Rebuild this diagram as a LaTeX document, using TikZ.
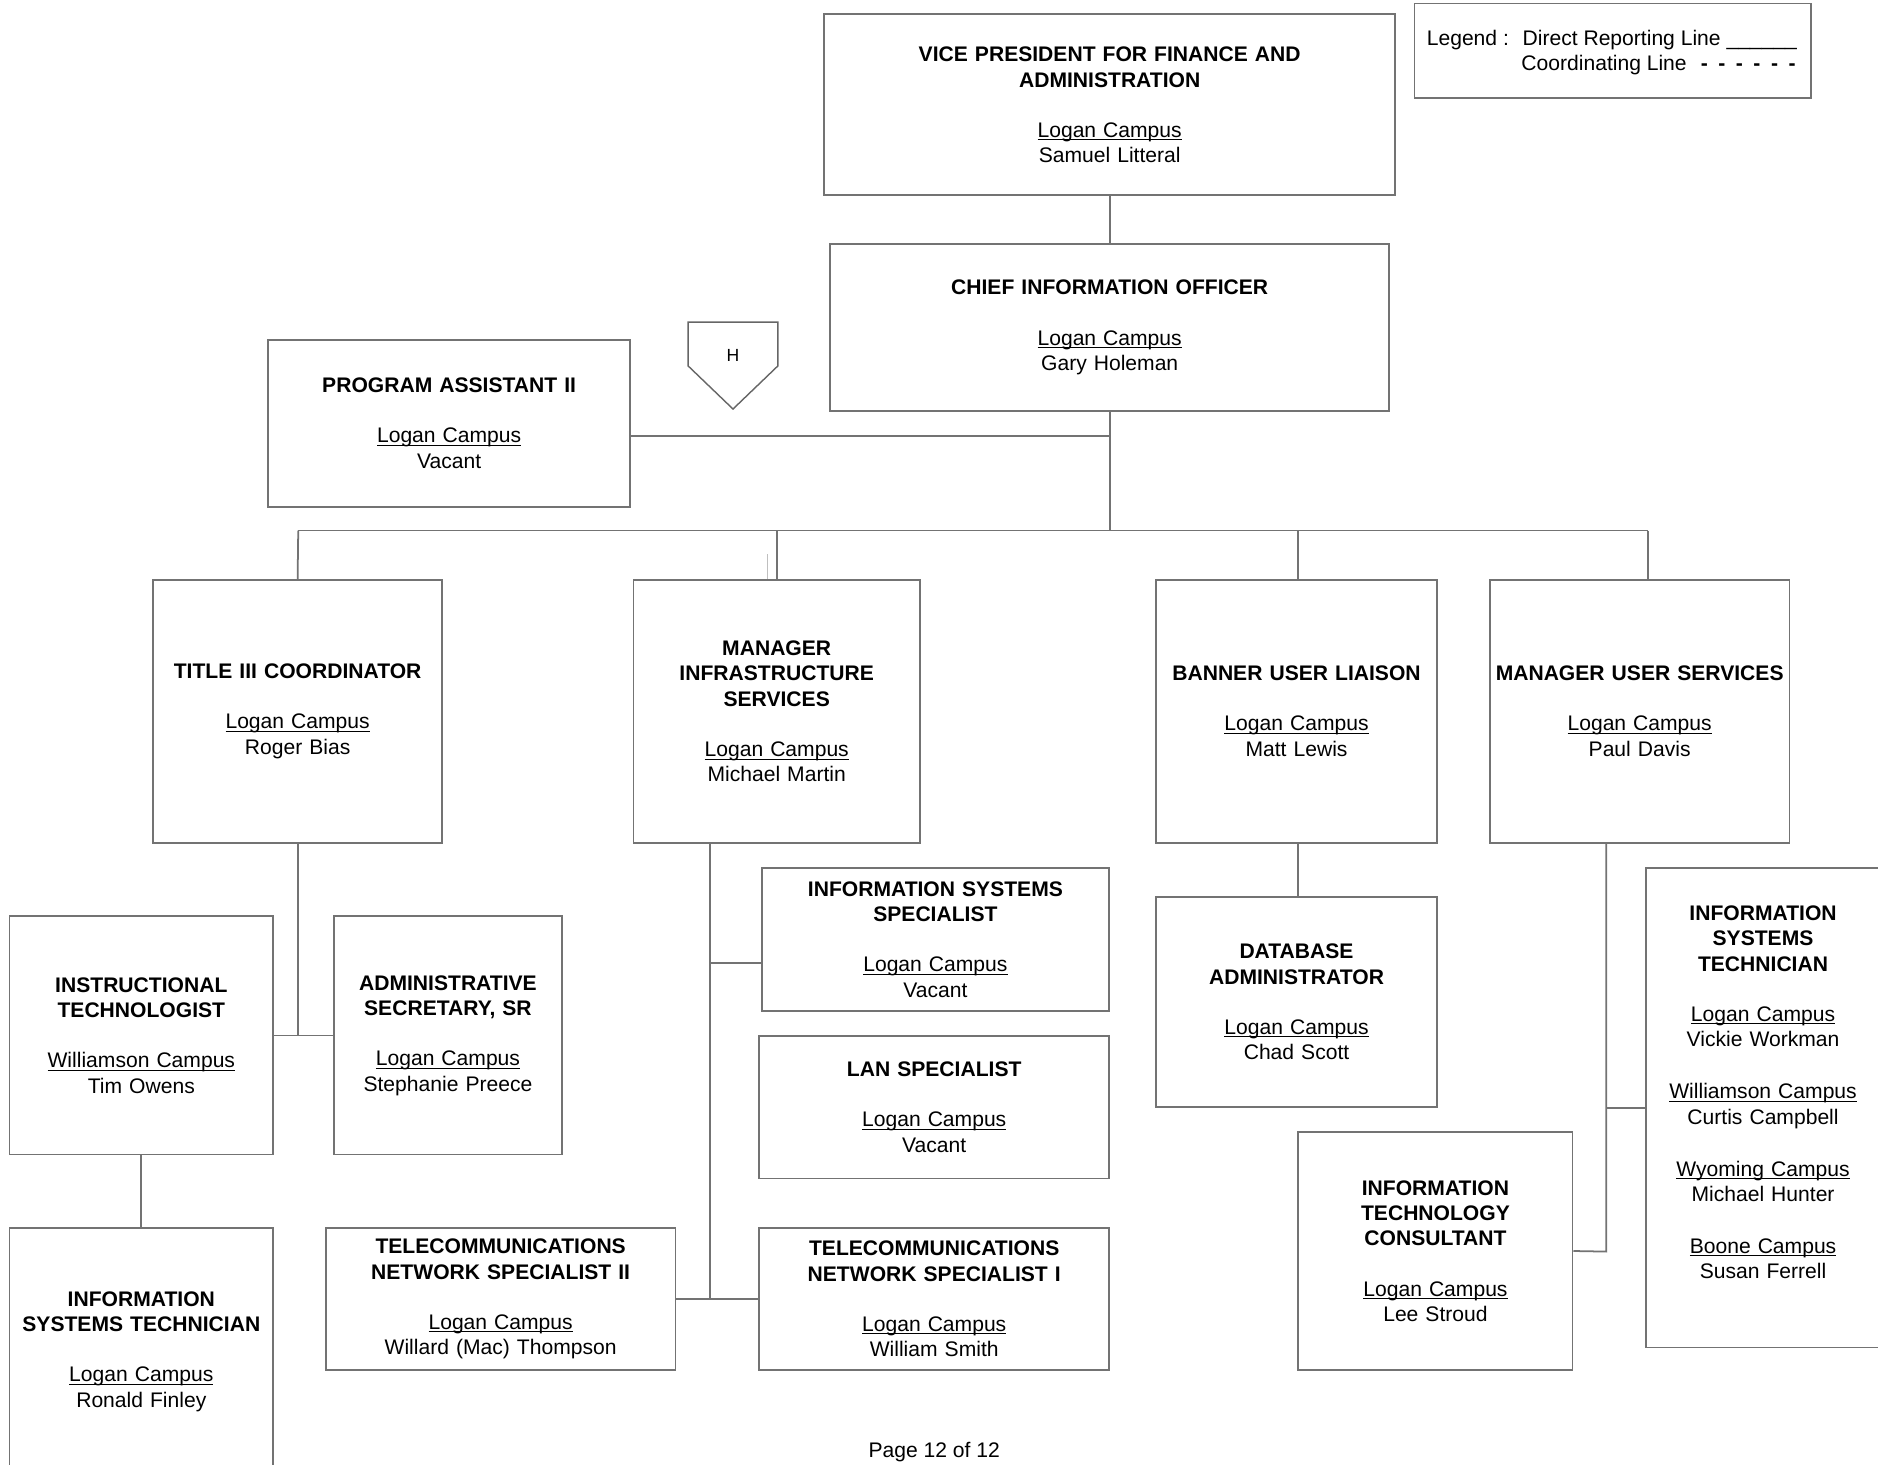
\documentclass[tikz,border=0pt]{standalone}
\usepackage{fontspec}
\setmainfont{Liberation Sans}
\usetikzlibrary{positioning,calc}
\newdimen\px \px=0.02395cm
\tikzset{
  post/.style={draw=black!55, line width=1pt, inner sep=0pt, align=center,
    font=\fontsize{12}{14.5}\selectfont},
  boxsize/.style 2 args={text width=#1\px, minimum height=#2\px},
  link/.style={draw=black!55, line width=1pt},
  plain/.style={inner sep=0pt, font=\fontsize{12}{14.5}\selectfont},
}
\newcommand{\campus}[1]{\underline{\smash{#1}}}
\newcommand{\post}[3]{\textbf{#1}\\[14pt]\campus{#2}\\#3}

\begin{document}
\begin{tikzpicture}[x=0.02395cm, y=-0.02395cm]
    \clip (0,0) rectangle (1568,1223);
    \fill[white] (0,0) rectangle (1568,1223);

    % Legend
    \node[post, minimum width=331\px, minimum height=79\px] (legend) at (1346.5,42.5) {};
    \node[plain, anchor=base west] (legkey) at (1191,38) {Legend :};
    \node[plain, anchor=base west] (legdirect) at (1271,38) {Direct Reporting Line \_\_\_\_\_\_};
    \node[plain, anchor=base west] (legcoord) at (1270,59)
        {Coordinating Line\hspace{8pt}\textbf{-\hspace{6pt}-\hspace{6pt}-\hspace{6pt}-\hspace{6pt}-\hspace{6pt}-}};

    % Top of the chart
    \node[post, boxsize={477}{151}] (vp) at (926.5,87.5)
        {\post{VICE PRESIDENT FOR FINANCE AND\\ADMINISTRATION}{Logan Campus}{Samuel Litteral}};
    \node[post, boxsize={467}{139}] (cio) at (926.5,273.5)
        {\post{CHIEF INFORMATION OFFICER}{Logan Campus}{Gary Holeman}};
    \node[post, boxsize={302}{139}] (pa) at (375,353.5)
        {\post{PROGRAM ASSISTANT II}{Logan Campus}{Vacant}};

    % H marker
    \draw[black!60, line width=0.8pt] (574.5,269) -- (649.5,269) -- (649.5,305.5)
        -- (612,341.5) -- (574.5,305.5) -- cycle;
    \node[inner sep=0pt, font=\fontsize{10}{12}\selectfont] (hmark) at (612,297) {H};

    % Second row
    \node[post, boxsize={241}{220}] (t3) at (248.5,594)
        {\post{TITLE III COORDINATOR}{Logan Campus}{Roger Bias}};
    \node[post, boxsize={239}{220}] (mis) at (648.5,594)
        {\post{MANAGER\\INFRASTRUCTURE\\SERVICES}{Logan Campus}{Michael Martin}};
    \node[post, boxsize={235}{220}] (bul) at (1082.5,594)
        {\post{BANNER USER LIAISON}{Logan Campus}{Matt Lewis}};
    \node[post, boxsize={250}{220}] (mus) at (1369,594)
        {\post{MANAGER USER SERVICES}{Logan Campus}{Paul Davis}};

    % Under Title III
    \node[post, boxsize={220}{199}] (it) at (118,864.5)
        {\post{INSTRUCTIONAL\\TECHNOLOGIST}{Williamson Campus}{Tim Owens}};
    \node[post, boxsize={190}{199}] (as) at (374,864.5)
        {\post{ADMINISTRATIVE\\SECRETARY, SR}{Logan Campus}{Stephanie Preece}};
    \node[post, boxsize={220}{207}] (ist) at (118,1128.5)
        {\post{INFORMATION\\SYSTEMS TECHNICIAN}{Logan Campus}{Ronald Finley}};

    % Under infrastructure
    \node[post, boxsize={290}{119}] (iss) at (781,784.5)
        {\post{INFORMATION SYSTEMS\\SPECIALIST}{Logan Campus}{Vacant}};
    \node[post, boxsize={292}{119}] (lan) at (780,924.5)
        {\post{LAN SPECIALIST}{Logan Campus}{Vacant}};
    \node[post, boxsize={292}{119}] (tn2) at (418,1084.5)
        {\post{TELECOMMUNICATIONS\\NETWORK SPECIALIST II}{Logan Campus}{Willard (Mac) Thompson}};
    \node[post, boxsize={292}{119}] (tn1) at (780,1084.5)
        {\post{TELECOMMUNICATIONS\\NETWORK SPECIALIST I}{Logan Campus}{William Smith}};

    % Under banner and user services
    \node[post, boxsize={235}{175}] (dba) at (1082.5,836.5)
        {\post{DATABASE\\ADMINISTRATOR}{Logan Campus}{Chad Scott}};
    \node[post, boxsize={229}{199}] (itc) at (1198.5,1044.5)
        {\post{INFORMATION\\TECHNOLOGY\\CONSULTANT}{Logan Campus}{Lee Stroud}};
    \node[post, boxsize={196}{400}] (isr) at (1472,925) {};
    \node[plain, align=center, text width=196\px] (isrtext) at (1472,912)
        {\textbf{INFORMATION\\SYSTEMS\\TECHNICIAN}\\[14pt]
         \campus{Logan Campus}\\Vickie Workman\\[15pt]
         \campus{Williamson Campus}\\Curtis Campbell\\[15pt]
         \campus{Wyoming Campus}\\Michael Hunter\\[15pt]
         \campus{Boone Campus}\\Susan Ferrell};

    \node[plain, anchor=base] (page) at (780,1217) {Page 12 of 12};

    % Direct reporting lines
    \coordinate (busL) at (249,443);
    \coordinate (busR) at (1376,443);
    \coordinate (mtrunk) at (593,1085);
    \coordinate (utrunk) at (1341,1045);

    \draw[link] (vp) -- (cio);
    \draw[link] (cio.south) -- (cio.south |- busL);
    \draw[link] ([yshift=-10.5\px]pa.east) -- ([yshift=-10.5\px]pa.east -| cio.south);
    \draw[link] (busL) -- (busR);
    \draw[link] (busL) -- (t3.north);
    \draw[link] (mis.north) -- (mis.north |- busL);
    \draw[link] ([xshift=1.5\px]bul.north) -- ([xshift=1.5\px]bul.north |- busL);
    \draw[link] (busR) -- (busR |- mus.north);
    \draw[black!25, line width=0.8pt] ([xshift=-7.5\px]mis.north) -- ++(0,-21);

    \draw[link] (t3.south) -- (t3.south |- it.east);
    \draw[link] (it.east) -- (as.west);
    \draw[link] (it) -- (ist);

    \draw[link] (mtrunk |- mis.south) -- (mtrunk);
    \draw[link] ([yshift=-19.5\px]iss.west -| mtrunk) -- ([yshift=-19.5\px]iss.west);
    \draw[link] (tn2.east) -- (tn1.west);

    \draw[link] ([xshift=1.5\px]bul.south) -- ([xshift=1.5\px]dba.north);

    \draw[link] (utrunk |- mus.south) -- (utrunk) -- (itc.east);
    \draw[link] (utrunk |- isr.west) -- (isr.west);
\end{tikzpicture}
\end{document}
